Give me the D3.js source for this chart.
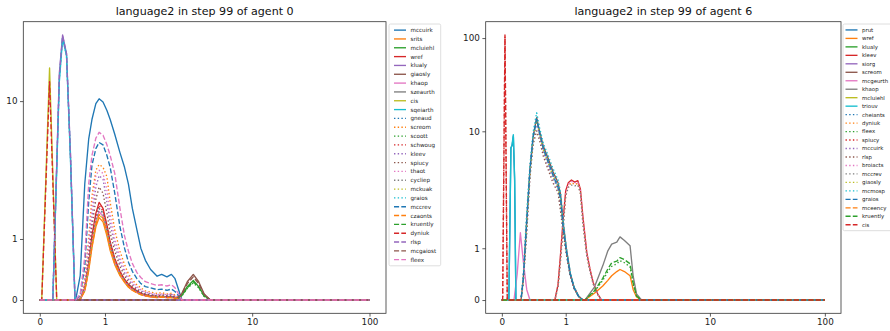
<!DOCTYPE html>
<html>
<head>
<meta charset="utf-8">
<script src="https://cdn.jsdelivr.net/npm/d3@7"></script>
<style>
  body { margin: 0; background: #fff; }
  svg { display: block; font-family: "DejaVu Sans", sans-serif; }
</style>
</head>
<body>
<svg id="chart" width="890" height="331"></svg>
<script>
// ---- data ----
const xTicks = [0, 1, 10, 100];
const xTickLabels = ["0", "1", "10", "100"];
const yTicks0 = [0, 1, 10];
const yTicks6 = [0, 1, 10, 100];

// legend order (= draw order)
const names0 = ["mccuirk", "srits", "mcluiehl", "wref", "klualy", "giaosly", "khaop", "szeaurth", "cis", "sqeiarth",
  "gneaud", "screom", "scoott", "schwoug", "kleev", "spiucy", "thaot", "cycliep", "mckuak", "graios",
  "mccrev", "czaonts", "kruently", "dyniuk", "rlsp", "mcgaiost", "fleex"];
const names6 = ["prut", "wref", "klualy", "kleev", "siorg", "screom", "mcgeurth", "khaop", "mcluiehl", "triouv",
  "cheiants", "dyniuk", "fleex", "spiucy", "mccuirk", "rlsp", "broiacts", "mccrev", "giaosly", "mcmosp",
  "graios", "mceency", "kruently", "cis"];

// agent 0 : x positions of each bump
const xA0 = [0.03, 0.15, 0.26];
const xB0 = [0.2, 0.3, 0.35, 0.41, 0.47, 0.54];
const xC0 = [0.55, 0.62, 0.69, 0.75, 0.8, 0.86, 0.91, 0.97, 1.03, 1.08, 1.15, 1.23, 1.3, 1.36, 1.42, 1.49,
  1.55, 1.62, 1.7, 1.8, 1.87, 1.95, 2.05, 2.2, 2.52];
const xD0 = [2.2, 2.5, 2.8, 3.15, 3.5, 3.9, 4.4];

const vals0 = [
  ["cis", xA0, [0, 20, 0]],
  ["dyniuk", xA0, [0, 15, 0]],
  ["klualy", xB0, [0, 18, 40, 27, 3.4, 0]],
  ["sqeiarth", xB0, [0, 15, 37, 26, 3.0, 0]],
  ["graios", xB0, [0, 16, 38, 26, 3.2, 0]],
  ["rlsp", xB0, [0, 17, 39, 27, 3.3, 0]],
  ["mccuirk", xC0, [0, 0.4, 1.9, 4.5, 6.8, 9.5, 10.5, 9.8, 8.2, 6.8, 5.0, 3.4, 2.5, 1.9, 1.5, 1.15, 0.85, 0.65, 0.5, 0.39, 0.42, 0.38, 0.42, 0.35, 0]],
  ["fleex", xC0, [0, 0.1, 0.7, 1.9, 3.2, 4.6, 5.2, 4.9, 4.0, 3.2, 2.2, 1.5, 1.05, 0.8, 0.6, 0.45, 0.37, 0.3, 0.27, 0.24, 0.25, 0.23, 0.25, 0.2, 0]],
  ["mccrev", xC0, [0, 0.08, 0.55, 1.6, 2.6, 3.7, 4.2, 4.0, 3.2, 2.5, 1.75, 1.2, 0.85, 0.62, 0.47, 0.35, 0.27, 0.22, 0.2, 0.17, 0.18, 0.16, 0.18, 0.14, 0]],
  ["screom", xC0, [0, 0.05, 0.35, 1.0, 1.7, 2.35, 2.65, 2.5, 2.05, 1.6, 1.15, 0.8, 0.58, 0.43, 0.33, 0.25, 0.2, 0.15, 0.13, 0.11, 0.12, 0.1, 0.11, 0.08, 0]],
  ["thaot", xC0, [0, 0.04, 0.3, 0.9, 1.5, 2.1, 2.35, 2.2, 1.8, 1.4, 1.0, 0.7, 0.5, 0.38, 0.29, 0.22, 0.17, 0.13, 0.11, 0.09, 0.1, 0.09, 0.1, 0.07, 0]],
  ["kleev", xC0, [0, 0.03, 0.27, 0.8, 1.35, 1.85, 2.1, 1.98, 1.6, 1.25, 0.9, 0.62, 0.45, 0.34, 0.26, 0.19, 0.15, 0.12, 0.1, 0.08, 0.09, 0.08, 0.09, 0.06, 0]],
  ["spiucy", xC0, [0, 0.03, 0.24, 0.7, 1.2, 1.65, 1.85, 1.75, 1.42, 1.1, 0.8, 0.55, 0.4, 0.3, 0.23, 0.17, 0.13, 0.1, 0.08, 0.07, 0.08, 0.07, 0.08, 0.05, 0]],
  ["wref", xC0, [0, 0.02, 0.2, 0.6, 1.05, 1.42, 1.6, 1.5, 1.23, 0.95, 0.68, 0.47, 0.34, 0.26, 0.2, 0.15, 0.11, 0.09, 0.07, 0.06, 0.06, 0.05, 0.06, 0.04, 0]],
  ["schwoug", xC0, [0, 0.02, 0.19, 0.58, 1.0, 1.38, 1.55, 1.46, 1.2, 0.92, 0.66, 0.46, 0.33, 0.25, 0.19, 0.14, 0.11, 0.08, 0.07, 0.06, 0.06, 0.05, 0.05, 0.04, 0]],
  ["gneaud", xC0, [0, 0.02, 0.18, 0.56, 0.97, 1.34, 1.5, 1.42, 1.16, 0.9, 0.64, 0.44, 0.32, 0.24, 0.18, 0.14, 0.1, 0.08, 0.07, 0.05, 0.06, 0.05, 0.05, 0.03, 0]],
  ["cycliep", xC0, [0, 0.02, 0.17, 0.54, 0.95, 1.33, 1.5, 1.43, 1.18, 0.91, 0.65, 0.45, 0.32, 0.24, 0.18, 0.13, 0.1, 0.08, 0.06, 0.05, 0.05, 0.05, 0.05, 0.03, 0]],
  ["khaop", xC0, [0, 0.02, 0.17, 0.53, 0.93, 1.3, 1.45, 1.37, 1.12, 0.87, 0.62, 0.43, 0.31, 0.23, 0.17, 0.13, 0.1, 0.07, 0.06, 0.05, 0.05, 0.04, 0.05, 0.03, 0]],
  ["mckuak", xC0, [0, 0.02, 0.16, 0.51, 0.9, 1.25, 1.4, 1.33, 1.08, 0.84, 0.6, 0.41, 0.3, 0.22, 0.17, 0.12, 0.09, 0.07, 0.06, 0.05, 0.05, 0.04, 0.04, 0.03, 0]],
  ["czaonts", xC0, [0, 0.01, 0.15, 0.5, 0.88, 1.24, 1.4, 1.34, 1.1, 0.85, 0.61, 0.42, 0.3, 0.22, 0.16, 0.12, 0.09, 0.07, 0.06, 0.04, 0.05, 0.04, 0.04, 0.03, 0]],
  ["srits", xC0, [0, 0.01, 0.15, 0.48, 0.86, 1.2, 1.35, 1.28, 1.05, 0.81, 0.58, 0.4, 0.29, 0.21, 0.16, 0.12, 0.09, 0.07, 0.05, 0.04, 0.05, 0.04, 0.04, 0.03, 0]],
  ["giaosly", xD0, [0, 0.1, 0.3, 0.42, 0.3, 0.1, 0]],
  ["mcgaiost", xD0, [0, 0.09, 0.27, 0.38, 0.27, 0.09, 0]],
  ["mcluiehl", xD0, [0, 0.07, 0.22, 0.32, 0.22, 0.07, 0]],
  ["kruently", xD0, [0, 0.07, 0.2, 0.3, 0.21, 0.06, 0]],
  ["scoott", xD0, [0, 0.06, 0.19, 0.28, 0.2, 0.06, 0]]
];

// agent 6 : x positions of each bump
const xS1 = [0.0125, 0.049, 0.085];
const xS2 = [0.11, 0.142, 0.16, 0.18, 0.2, 0.22];
const xS3 = [0.19, 0.24, 0.29, 0.34, 0.39, 0.44];
const xG2 = [0.3, 0.335, 0.39, 0.44, 0.49, 0.545, 0.59, 0.65, 0.73, 0.8, 0.88, 0.92, 0.96, 1.01, 1.07, 1.13, 1.2, 1.27];
const xG3 = [0.83, 0.88, 0.92, 0.96, 1.0, 1.04, 1.09, 1.14, 1.19, 1.23, 1.27, 1.33, 1.38, 1.43, 1.5, 1.56];
const xG4 = [1.3, 1.45, 1.58, 1.66, 1.72, 1.8, 1.85, 1.92, 2.02, 2.15, 2.3, 2.54];

const vals6 = [
  ["cis", xS1, [0, 108, 0]],
  ["spiucy", xS1, [0, 104, 0]],
  ["prut", xS2, [0, 6.7, 7.0, 8.9, 3.0, 0]],
  ["triouv", xS2, [0, 6.5, 7.2, 9.2, 3.2, 0]],
  ["mcgeurth", xS3, [0, 0.5, 1.3, 0.7, 0.2, 0]],
  ["screom", xG2, [0, 0.4, 1.56, 3.9, 8.9, 14, 10, 6.9, 5.0, 3.7, 2.8, 2.1, 1.5, 1.0, 0.53, 0.25, 0.08, 0]],
  ["mcmosp", xG2, [0, 0.45, 1.7, 4.3, 9.8, 15.8, 11, 7.4, 5.4, 4.0, 3.0, 2.2, 1.55, 1.0, 0.55, 0.26, 0.08, 0]],
  ["graios", xG2, [0, 0.4, 1.5, 3.8, 8.6, 13.4, 9.6, 6.5, 4.6, 3.4, 2.5, 1.95, 1.4, 0.95, 0.5, 0.24, 0.07, 0]],
  ["cheiants", xG2, [0, 0.42, 1.6, 4.0, 9.0, 13.6, 9.8, 6.6, 4.7, 3.5, 2.6, 2.0, 1.45, 0.97, 0.52, 0.25, 0.08, 0]],
  ["giaosly", xG2, [0, 0.38, 1.5, 3.7, 8.4, 13, 9.4, 6.3, 4.5, 3.3, 2.5, 1.9, 1.4, 0.95, 0.5, 0.24, 0.07, 0]],
  ["mccuirk", xG2, [0, 0.36, 1.4, 3.5, 8.0, 12.2, 9.0, 6.0, 4.2, 3.1, 2.4, 1.8, 1.35, 0.9, 0.48, 0.23, 0.07, 0]],
  ["rlsp", xG2, [0, 0.33, 1.3, 3.2, 7.2, 10.1, 8.0, 5.4, 3.8, 2.8, 2.2, 1.7, 1.3, 0.88, 0.46, 0.22, 0.07, 0]],
  ["kleev", xG3, [0, 0.3, 0.9, 1.56, 2.3, 2.8, 3.0, 2.85, 2.95, 2.4, 1.6, 0.92, 0.6, 0.34, 0.12, 0]],
  ["broiacts", xG3, [0, 0.28, 0.85, 1.5, 2.2, 2.7, 2.9, 2.8, 2.85, 2.3, 1.55, 0.9, 0.58, 0.33, 0.12, 0]],
  ["dyniuk", xG3, [0, 0.26, 0.8, 1.42, 2.1, 2.6, 2.8, 2.7, 2.75, 2.2, 1.5, 0.87, 0.56, 0.32, 0.11, 0]],
  ["mccrev", xG3, [0, 0.25, 0.78, 1.38, 2.0, 2.5, 2.65, 2.6, 2.65, 2.15, 1.45, 0.85, 0.55, 0.31, 0.11, 0]],
  ["khaop", xG4, [0, 0.25, 0.66, 0.95, 1.08, 1.12, 1.22, 1.15, 1.05, 0.46, 0.12, 0]],
  ["kruently", xG4, [0, 0.18, 0.42, 0.6, 0.72, 0.75, 0.82, 0.78, 0.7, 0.33, 0.08, 0]],
  ["fleex", xG4, [0, 0.16, 0.38, 0.55, 0.65, 0.7, 0.76, 0.72, 0.64, 0.3, 0.07, 0]],
  ["wref", xG4, [0, 0.13, 0.27, 0.38, 0.47, 0.55, 0.59, 0.55, 0.47, 0.2, 0.06, 0]]
];

const xMax = 100;

// ---- drawing ----
const tab10 = ["#1f77b4", "#ff7f0e", "#2ca02c", "#d62728", "#9467bd", "#8c564b", "#e377c2", "#7f7f7f", "#bcbd22", "#17becf"];

// matplotlib-style symlog (linthresh 2, linscale 1, base 10)
function symlog(v) {
  const lt = 2, ls = 1 / (1 - 1 / 10);
  const a = Math.abs(v);
  return a <= lt ? v * ls : Math.sign(v) * lt * (ls + Math.log10(a / lt));
}

const svg = d3.select("#chart");

function panel(opt) {
  const g = svg.append("g");

  // assemble full series: zero line from 0 to 100 with the bump in between
  const byName = {};
  opt.vals.forEach(([name, xs, ys]) => { byName[name] = xs.map((x, i) => [x, ys[i]]); });
  const series = opt.names.map((name, i) => {
    const mid = byName[name] || [];
    return { name, i, pts: [[0, 0], ...mid, [xMax, 0]] };
  });

  const yMax = d3.max(series, s => d3.max(s.pts, p => p[1]));
  const xs = symlog(xMax), ys = symlog(yMax);

  const x = d3.scaleLinear().domain([-0.05 * xs, 1.05 * xs]).range([opt.left, opt.right]);
  const y = d3.scaleLinear().domain([-0.05 * ys, 1.05 * ys]).range([opt.bottom, opt.top]);

  const line = d3.line().x(d => x(symlog(d[0]))).y(d => y(symlog(d[1])));

  g.selectAll("path.series")
    .data(series)
    .enter().append("path")
      .attr("class", "series")
      .attr("d", d => line(d.pts))
      .attr("fill", "none")
      .attr("stroke", d => tab10[d.i % 10])
      .attr("stroke-width", 1.35)
      .attr("stroke-linejoin", "round")
      .attr("stroke-dasharray", d => d.i < 10 ? null : (d.i < 20 ? "1.4,2.3" : "5.1,2.2"));

  // frame
  g.append("rect")
    .attr("x", opt.left).attr("y", opt.top)
    .attr("width", opt.right - opt.left).attr("height", opt.bottom - opt.top)
    .attr("fill", "none").attr("stroke", "#333").attr("stroke-width", 0.8);

  const xAxis = g.append("g")
    .attr("transform", `translate(0,${opt.bottom})`)
    .call(d3.axisBottom(x).tickValues(xTicks.map(symlog))
      .tickFormat((d, i) => xTickLabels[i]).tickSize(3.3).tickPadding(2.5));
  const yAxis = g.append("g")
    .attr("transform", `translate(${opt.left},0)`)
    .call(d3.axisLeft(y).tickValues(opt.yTicks.map(symlog))
      .tickFormat((d, i) => String(opt.yTicks[i])).tickSize(3.3).tickPadding(2.5));
  [xAxis, yAxis].forEach(a => {
    a.select(".domain").remove();
    a.selectAll("line").attr("stroke", "#333").attr("stroke-width", 0.8);
    a.selectAll("text").attr("fill", "#222").style("font-size", "8.8px")
      .style("font-family", "DejaVu Sans, sans-serif");
  });

  g.append("text")
    .attr("x", (opt.left + opt.right) / 2).attr("y", 15.3)
    .attr("text-anchor", "middle")
    .style("font-size", "11.1px").attr("fill", "#111")
    .text(opt.title);

  // legend
  const lg = g.append("g").attr("transform", `translate(${opt.legX},${opt.legY})`);
  lg.append("rect")
    .attr("width", opt.legW).attr("height", series.length * opt.rowH + 3.4)
    .attr("rx", 1.5).attr("fill", "#fff").attr("fill-opacity", 0.8)
    .attr("stroke", "#d6d6d6").attr("stroke-width", 0.8);
  const row = lg.selectAll("g.row")
    .data(series)
    .enter().append("g")
      .attr("class", "row")
      .attr("transform", d => `translate(0,${1.7 + opt.rowH * (d.i + 0.5)})`);
  row.append("line")
    .attr("x1", opt.lineX).attr("x2", opt.lineX + 12)
    .attr("stroke", d => tab10[d.i % 10]).attr("stroke-width", 1.35)
    .attr("stroke-dasharray", d => d.i < 10 ? null : (d.i < 20 ? "1.4,2.3" : "5.1,2.2"));
  row.append("text")
    .attr("x", opt.lineX + 16.5).attr("dy", "0.35em")
    .style("font-size", opt.legFont).attr("fill", "#222")
    .text(d => d.name);
}

panel({ names: names0, vals: vals0, yTicks: yTicks0, title: "language2 in step 99 of agent 0",
  left: 23.3, right: 386, top: 21.7, bottom: 313.3,
  legX: 389, legY: 24, legW: 51.7, rowH: 8.83, lineX: 5, legFont: "5.6px" });

panel({ names: names6, vals: vals6, yTicks: yTicks6, title: "language2 in step 99 of agent 6",
  left: 485.7, right: 841, top: 21.7, bottom: 313.3,
  legX: 843, legY: 24, legW: 51, rowH: 8.47, lineX: 2.5, legFont: "5.4px" });
</script>
</body>
</html>
